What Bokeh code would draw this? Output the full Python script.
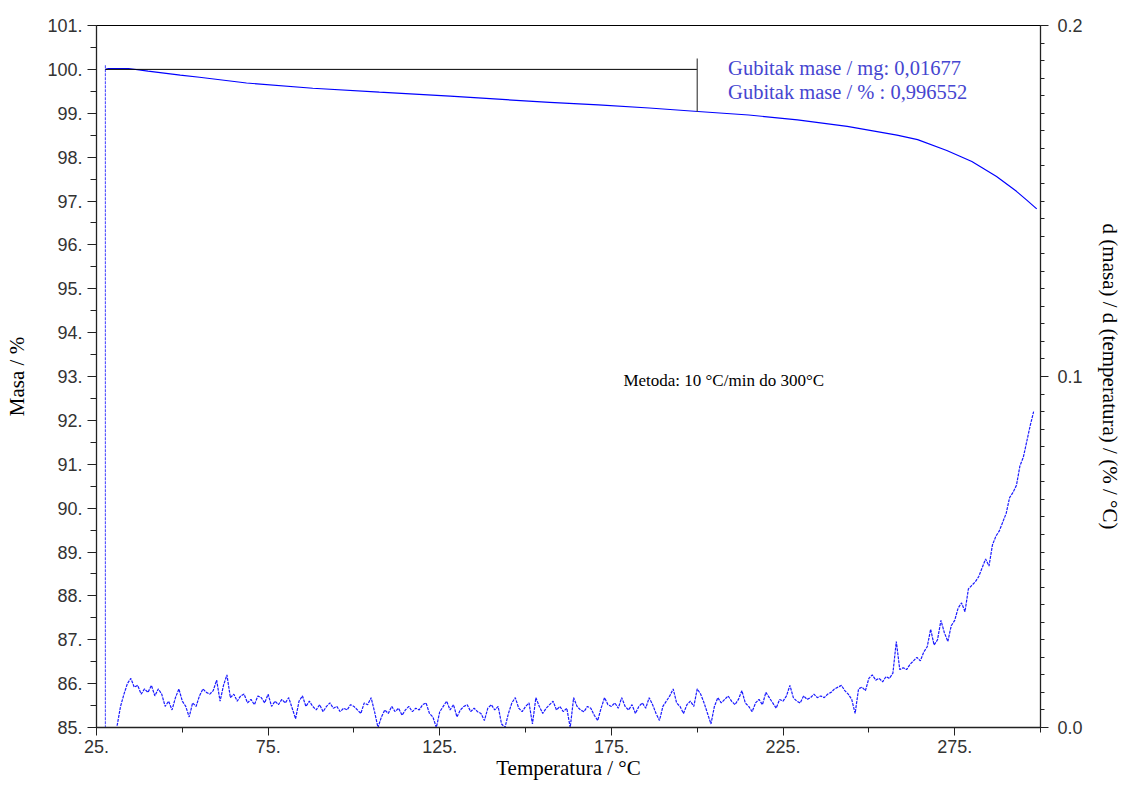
from bokeh.plotting import figure
from bokeh.models import Range1d, LinearAxis, FixedTicker, PrintfTickFormatter, Label
from bokeh.embed import file_html
from bokeh.resources import INLINE

# ---------------- data ----------------
# TG curve: mass (%) vs temperature (°C)
tg_temp = [27.6, 28.5, 34.3, 40.0, 49.4, 55.0, 68.7, 88.0, 107.4, 128.0, 142.0, 157.0, 171.2,
           186.0, 200.2, 215.0, 229.2, 243.7, 258.2, 264.2, 272.7, 280.0, 287.2, 293.0, 296.0, 298.9]
tg_mass = [100.00, 100.02, 100.02, 99.96, 99.87, 99.82, 99.69, 99.57, 99.48, 99.39, 99.32, 99.25, 99.19,
           99.12, 99.04, 98.96, 98.85, 98.70, 98.50, 98.40, 98.15, 97.90, 97.56, 97.22, 97.02, 96.82]

# DTG curve: d(mass)/d(temperature) (%/°C), sampled every 1 °C from 31 to 298
dtg_temp = list(range(31, 299))
dtg_rate = [
    0.0005, 0.0060, 0.0095, 0.0125, 0.0140, 0.0115, 0.0120, 0.0095, 0.0110,
    0.0100, 0.0120, 0.0090, 0.0110, 0.0095, 0.0060, 0.0075, 0.0050, 0.0085, 0.0110,
    0.0075, 0.0060, 0.0030, 0.0070, 0.0060, 0.0090, 0.0110, 0.0100, 0.0095, 0.0105,
    0.0135, 0.0075, 0.0120, 0.0150, 0.0085, 0.0095, 0.0075, 0.0090, 0.0095, 0.0070,
    0.0080, 0.0065, 0.0090, 0.0085, 0.0070, 0.0095, 0.0060, 0.0075, 0.0065, 0.0080,
    0.0070, 0.0085, 0.0055, 0.0025, 0.0075, 0.0090, 0.0060, 0.0075, 0.0060, 0.0050,
    0.0065, 0.0045, 0.0060, 0.0070, 0.0055, 0.0060, 0.0045, 0.0055, 0.0050, 0.0065,
    0.0060, 0.0050, 0.0040, 0.0070, 0.0065, 0.0085, 0.0045, 0.0000, 0.0030, 0.0050,
    0.0040, 0.0060, 0.0045, 0.0055, 0.0035, 0.0050, 0.0060, 0.0045, 0.0055, 0.0050,
    0.0065, 0.0070, 0.0040, 0.0030, 0.0000, 0.0045, 0.0060, 0.0075, 0.0050, 0.0065,
    0.0030, 0.0050, 0.0060, 0.0065, 0.0045, 0.0055, 0.0045, 0.0040, 0.0020, 0.0055,
    0.0065, 0.0050, 0.0060, 0.0010, 0.0000, 0.0040, 0.0070, 0.0085, 0.0055, 0.0045,
    0.0060, 0.0070, 0.0010, 0.0085, 0.0060, 0.0040, 0.0055, 0.0065, 0.0075, 0.0050,
    0.0060, 0.0045, 0.0055, 0.0000, 0.0085, 0.0060, 0.0050, 0.0045, 0.0060, 0.0055,
    0.0035, 0.0020, 0.0055, 0.0085, 0.0065, 0.0060, 0.0070, 0.0055, 0.0085, 0.0060,
    0.0050, 0.0065, 0.0040, 0.0060, 0.0070, 0.0055, 0.0085, 0.0065, 0.0040, 0.0020,
    0.0060, 0.0075, 0.0090, 0.0110, 0.0070, 0.0060, 0.0040, 0.0065, 0.0075, 0.0060,
    0.0110, 0.0095, 0.0070, 0.0040, 0.0010, 0.0060, 0.0085, 0.0070, 0.0080, 0.0090,
    0.0075, 0.0065, 0.0080, 0.0105, 0.0070, 0.0060, 0.0045, 0.0070, 0.0080, 0.0065,
    0.0100, 0.0085, 0.0070, 0.0055, 0.0080, 0.0075, 0.0090, 0.0120, 0.0085, 0.0075,
    0.0070, 0.0090, 0.0080, 0.0085, 0.0095, 0.0085, 0.0090, 0.0085, 0.0095, 0.0100,
    0.0110, 0.0115, 0.0120, 0.0105, 0.0095, 0.0080, 0.0040, 0.0110, 0.0115, 0.0105,
    0.0140, 0.0150, 0.0135, 0.0140, 0.0130, 0.0145, 0.0140, 0.0155, 0.0245, 0.0165,
    0.0170, 0.0165, 0.0180, 0.0190, 0.0200, 0.0190, 0.0215, 0.0230, 0.0280, 0.0235,
    0.0250, 0.0305, 0.0270, 0.0245, 0.0290, 0.0305, 0.0340, 0.0355, 0.0330, 0.0395,
    0.0405, 0.0415, 0.0430, 0.0455, 0.0480, 0.0460, 0.0520, 0.0545, 0.0560, 0.0585,
    0.0610, 0.0655, 0.0670, 0.0690, 0.0745, 0.0770, 0.0815, 0.0860, 0.0900,
]
# initial DTG jump (vertical dashed line at the start of the run)
dtg_start_temp = [27.6, 27.6]
dtg_start_rate = [0.1887, 0.0]

# mass-loss bracket (0 -> 200 °C)
bracket_h_temp = [27.6, 200.0]
bracket_h_mass = [100.0, 100.0]
bracket_v_temp = [200.0, 200.0]
bracket_v_mass = [100.25, 99.03]

# axes ticks
x_ticks = [25, 75, 125, 175, 225, 275]
x_minor = [50, 100, 150, 200, 250, 300]
y_ticks = list(range(85, 102))
y_minor = [v + 0.5 for v in range(85, 101)]
dtg_ticks = [0.0, 0.1, 0.2]
dtg_minor = [round(i * 0.005, 3) for i in range(41)]

x_title = "Temperatura / °C"
y_title = "Masa / %"
y2_title = "d (masa) / d (temperatura) / (% / °C)"
texts = ["Gubitak mase / mg: 0,01677", "Gubitak mase / % : 0,996552", "Metoda: 10 °C/min do 300°C"]

# ---------------- figure ----------------
SERIF = "Liberation Serif"
SANS = "Liberation Sans"

p = figure(width=1124, height=782, output_backend="svg", toolbar_location=None,
           x_range=Range1d(25, 300), y_range=Range1d(85, 101),
           min_border_left=96, min_border_right=80, min_border_top=25, min_border_bottom=54)
p.extra_y_ranges = {"dtg": Range1d(0, 0.2)}
p.xgrid.visible = False
p.ygrid.visible = False
p.outline_line_color = "black"
p.outline_line_width = 1
p.background_fill_color = "white"
p.border_fill_color = "white"


def style_axis(ax, major_out, minor_out, standoff):
    ax.axis_line_color = "#222222"
    ax.axis_line_width = 1.3
    ax.major_tick_line_color = "#222222"
    ax.minor_tick_line_color = "#222222"
    ax.major_tick_in = 0
    ax.minor_tick_in = 0
    ax.major_tick_out = major_out
    ax.minor_tick_out = minor_out
    ax.major_label_text_font = SANS
    ax.major_label_text_font_size = "18px"
    ax.major_label_text_color = "#333333"
    ax.major_label_standoff = standoff


def style_title(ax, text, standoff, size="21px"):
    ax.axis_label = text
    ax.axis_label_text_font = SERIF
    ax.axis_label_text_font_size = size
    ax.axis_label_text_font_style = "normal"
    ax.axis_label_text_color = "black"
    ax.axis_label_standoff = standoff


xa = p.xaxis[0]
xa.ticker = FixedTicker(ticks=x_ticks, minor_ticks=x_minor)
xa.formatter = PrintfTickFormatter(format="%d.")
style_axis(xa, 8, 5, 4)
style_title(xa, x_title, 0)

ya = p.yaxis[0]
ya.ticker = FixedTicker(ticks=y_ticks, minor_ticks=y_minor)
ya.formatter = PrintfTickFormatter(format="%d.")
style_axis(ya, 9, 6, 5)
style_title(ya, y_title, 15)

ra = LinearAxis(y_range_name="dtg", ticker=FixedTicker(ticks=dtg_ticks, minor_ticks=dtg_minor),
                formatter=PrintfTickFormatter(format="%.1f"))
style_axis(ra, 8, 4, 9)
style_title(ra, y2_title, 12)
p.add_layout(ra, "right")

# ---------------- glyphs ----------------
DTG_COLOR = "#1a1aff"
p.line(dtg_start_temp, dtg_start_rate, y_range_name="dtg", line_color="#5a5aff",
       line_width=1.2, line_dash="3 1")
p.line(dtg_temp, dtg_rate, y_range_name="dtg", line_color=DTG_COLOR, line_width=1.2, line_dash="3 1")
p.line(tg_temp, tg_mass, line_color="#0000ff", line_width=1.2)
p.line(bracket_h_temp, bracket_h_mass, line_color="black", line_width=1)
p.line(bracket_v_temp, bracket_v_mass, line_color="#444444", line_width=1.2)

# ---------------- annotations ----------------
ANN_BLUE = "#4646d0"
p.add_layout(Label(x=209.0, y=100.03, text=texts[0], text_font=SERIF, text_font_size="20.5px",
                   text_color=ANN_BLUE, text_baseline="middle"))
p.add_layout(Label(x=209.0, y=99.49, text=texts[1], text_font=SERIF, text_font_size="20.5px",
                   text_color=ANN_BLUE, text_baseline="middle"))
p.add_layout(Label(x=178.5, y=92.91, text=texts[2], text_font=SERIF, text_font_size="17px",
                   text_color="black", text_baseline="middle"))

open("out.html", "w").write(file_html(p, INLINE))
